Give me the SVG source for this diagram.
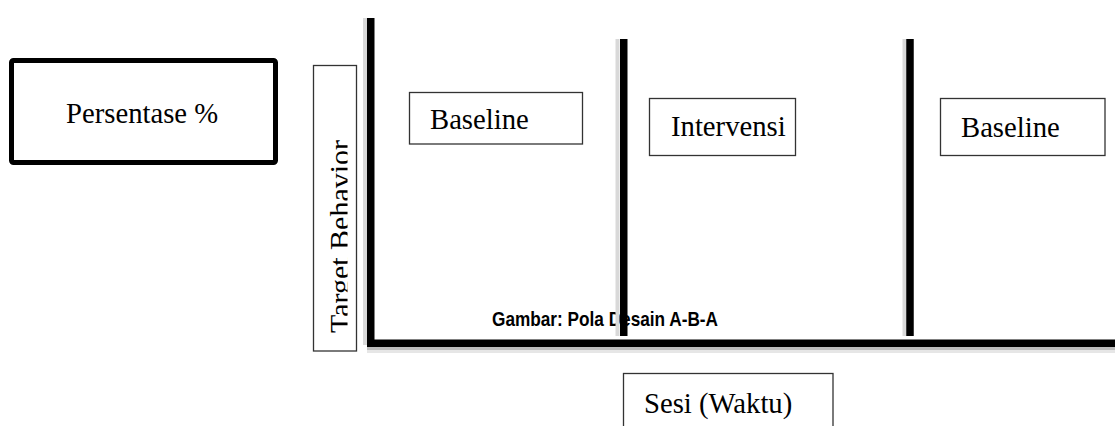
<svg xmlns="http://www.w3.org/2000/svg" width="1115" height="426" viewBox="0 0 1115 426">
<style>
.lbl{font-family:"Liberation Serif","Times New Roman",serif;font-size:28.7px;fill:#000}
.box{fill:#fff;stroke:#333;stroke-width:1.3}
.axis{stroke:#000;stroke-width:7.5;fill:none}
.shadow{stroke:#d9d9d9;stroke-width:4;fill:none}
.cap{font-family:"Liberation Sans",Arial,sans-serif;font-weight:bold;font-size:20.5px;fill:#000}
</style>
<defs>
<clipPath id="tbclip"><rect x="313" y="65" width="34.5" height="286"/></clipPath>
</defs>
<rect width="1115" height="426" fill="#fff"/>
<g id="persentase">
<rect x="11.5" y="60.5" width="264" height="102" rx="2" fill="#fff" stroke="#000" stroke-width="5"/>
<text class="lbl" x="66" y="123">Persentase %</text>
</g>
<g id="target-behavior">
<rect class="box" x="313.5" y="65.5" width="43" height="285.5"/>
<g clip-path="url(#tbclip)">
<text class="lbl" transform="translate(349.5,333) rotate(-90)" x="0" y="0" textLength="193" lengthAdjust="spacingAndGlyphs">Target Behavior</text>
</g>
</g>
<g id="caption">
<text class="cap" x="492" y="326" textLength="226" lengthAdjust="spacingAndGlyphs">Gambar: Pola Desain A-B-A</text>
</g>
<g id="connectors">
<line class="shadow" x1="365" y1="18" x2="365" y2="345"/>
<line class="shadow" x1="617.5" y1="39" x2="617.5" y2="336"/>
<line class="shadow" x1="904.5" y1="39" x2="904.5" y2="336"/>
<rect x="367" y="347" width="748" height="3" fill="#bdbdbd"/>
<rect x="367" y="350" width="748" height="3" fill="#e6e6e6"/>
<line class="axis" x1="370.75" y1="18" x2="370.75" y2="347"/>
<line class="axis" x1="623.75" y1="39" x2="623.75" y2="336"/>
<line class="axis" x1="910" y1="39" x2="910" y2="336"/>
<line class="axis" x1="367" y1="343.25" x2="1115" y2="343.25"/>
</g>
<g id="baseline-1">
<rect class="box" x="409.5" y="92.5" width="173" height="51.5"/>
<text class="lbl" x="430" y="129">Baseline</text>
</g>
<g id="intervensi">
<rect class="box" x="649.5" y="98.5" width="146" height="57"/>
<text class="lbl" x="671" y="136">Intervensi</text>
</g>
<g id="baseline-2">
<rect class="box" x="940.5" y="98.5" width="164.5" height="57"/>
<text class="lbl" x="961" y="137">Baseline</text>
</g>
<g id="sesi">
<rect class="box" x="623.5" y="373.5" width="209.5" height="60"/>
<text class="lbl" x="644" y="413">Sesi (Waktu)</text>
</g>
</svg>
